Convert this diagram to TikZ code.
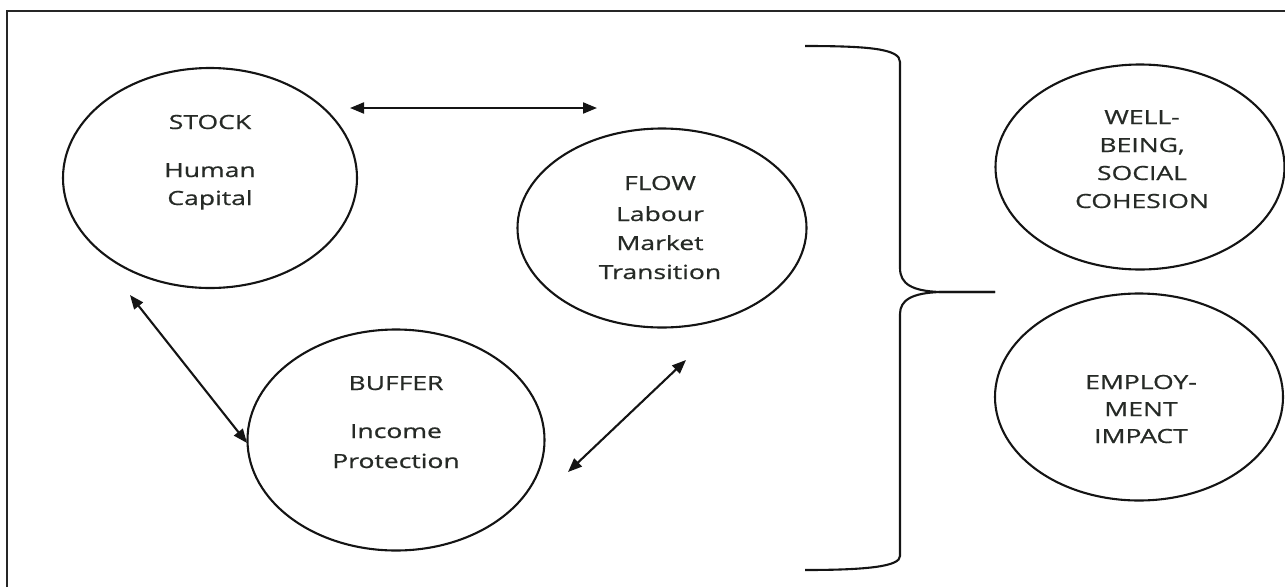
\documentclass[tikz,border=0pt]{standalone}
\usepackage{fontspec}
\setmainfont{Open Sans}[FakeBold=0.6]
\usetikzlibrary{shapes.geometric,arrows.meta}
\definecolor{txtgray}{RGB}{38,42,38}
\definecolor{inkline}{RGB}{20,20,20}
\tikzset{
  oval/.style={draw=inkline, ellipse, line width=2.1pt, inner sep=0pt},
  lbl/.style={anchor=base, inner sep=0pt, text=txtgray, xscale=1.36, transform shape,
              font=\fontsize{19.5}{28}\selectfont},
  twoway/.style={line width=2.1pt, draw=inkline, {Triangle[length=14pt,width=11pt]}-{Triangle[length=14pt,width=11pt]}},
  bracket/.style={line width=2.1pt, draw=inkline},
  frameline/.style={line width=2.2pt, draw=black!85}
}
\begin{document}
\begin{tikzpicture}[x=1pt,y=1pt]
\useasboundingbox (0,-587) rectangle (1285,0);
% open frame
\draw[frameline] (7,-587) -- (7,-11) -- (1285,-11);

% ellipses
\node[oval, minimum width=294pt, minimum height=220pt] (stock) at (210,-178) {};
\node[oval, minimum width=289pt, minimum height=199pt] (flow) at (662,-228) {};
\node[oval, minimum width=297pt, minimum height=221pt] (buffer) at (396,-440) {};
\node[oval, minimum width=289pt, minimum height=205pt] (well) at (1140,-167) {};
\node[oval, minimum width=288pt, minimum height=207pt] (emp) at (1139,-397) {};

% labels
\node[lbl] (stocktxt) at (210,-129) {\begin{tabular}[t]{@{}c@{}}STOCK\\[20pt]Human\\Capital\end{tabular}};
\node[lbl] (flowtxt) at (660,-190) {\begin{tabular}[t]{@{}c@{}}FLOW\\[3pt]Labour\\[1pt]Market\\[1pt]Transition\end{tabular}};
\node[lbl] (buffertxt) at (396,-390) {\begin{tabular}[t]{@{}c@{}}BUFFER\\[20pt]Income\\[2pt]Protection\end{tabular}};
\node[lbl] (welltxt) at (1142,-124) {\begin{tabular}[t]{@{}c@{}}WELL-\\BEING,\\SOCIAL\\COHESION\end{tabular}};
\node[lbl] (emptxt) at (1141,-389) {\begin{tabular}[t]{@{}c@{}}EMPLOY-\\[-1pt]MENT\\[-1pt]IMPACT\end{tabular}};

% arrow end points
\coordinate (a1) at (350,-108);
\coordinate (a2) at (597,-108);
\coordinate (b1) at (130,-295);
\coordinate (b2) at (247,-443);
\coordinate (c1) at (568,-472);
\coordinate (c2) at (686,-360);
\draw[twoway] (a1) -- (a2);
\draw[twoway] (b1) -- (b2);
\draw[twoway] (c1) -- (c2);

% brace
\coordinate (btop) at (805,-46);
\coordinate (btip) at (995,-292);
\coordinate (bbot) at (805,-570);
\draw[bracket] (btop) .. controls (870,-46) and (900,-49) .. (900,-62) -- (900,-268)
   .. controls (900,-284) and (912,-291) .. (940,-292) -- (btip);
\draw[bracket] (btip) -- (940,-292) .. controls (912,-293) and (900,-300) .. (900,-314)
   -- (900,-556) .. controls (900,-566) and (870,-570) .. (bbot);
\end{tikzpicture}
\end{document}
